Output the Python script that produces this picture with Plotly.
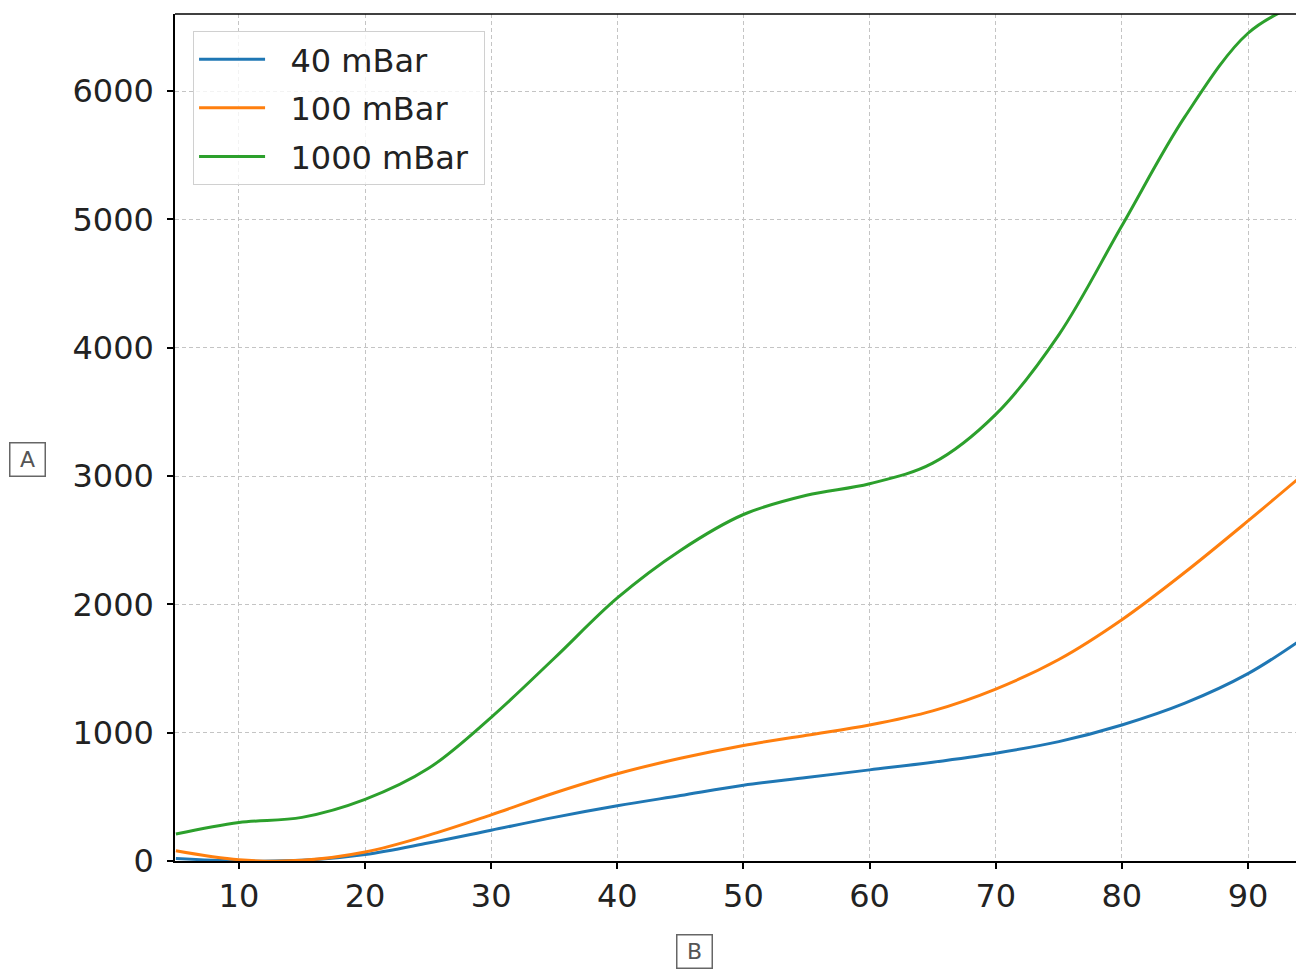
import plotly.graph_objects as go

# values
x_vals = [5, 10, 15, 20, 25, 30, 35, 40, 45, 50, 55, 60, 65, 70, 75, 80, 85, 90, 94]
p40 = [20, 0, 5, 50, 140, 240, 340, 430, 510, 590, 650, 710, 770, 840, 930, 1060, 1230, 1460, 1710]
p100 = [80, 10, 5, 70, 200, 360, 530, 680, 800, 900, 980, 1060, 1170, 1340, 1570, 1880, 2250, 2650, 2980]
p1000 = [210, 300, 340, 480, 720, 1120, 1580, 2050, 2420, 2700, 2850, 2940, 3100, 3480, 4100, 4950, 5800, 6450, 6680]

series = [("40 mBar", p40, "#1f77b4"),
          ("100 mBar", p100, "#ff7f0e"),
          ("1000 mBar", p1000, "#2ca02c")]

fig = go.Figure()
for name, vals, col in series:
    fig.add_trace(go.Scatter(x=x_vals, y=vals, name="\u00a0\u00a0" + name + "\u00a0", mode="lines",
                             line=dict(color=col, width=3, shape="spline", smoothing=1.0),
                             legendgroup=name))

axis_common = dict(showline=True, linecolor="black", linewidth=1.5,
                   ticks="outside", ticklen=6, tickwidth=1.5, tickcolor="black",
                   showgrid=True, gridcolor="#c4c4c4", gridwidth=1, griddash="4px,3px",
                   zeroline=False, tickfont=dict(family="DejaVu Sans", size=32, color="#222"))

fig.update_xaxes(range=[4.93, 94.44], tickvals=[10, 20, 30, 40, 50, 60, 70, 80, 90], **axis_common)
fig.update_yaxes(range=[0, 6600], tickvals=[0, 1000, 2000, 3000, 4000, 5000, 6000],
                 ticklabelstandoff=7, **axis_common)

# the page body adds an 8px offset, so the figure is 8px smaller than the window
fig.update_layout(
    width=1296, height=961,
    margin=dict(l=167, r=0, t=6, b=108),
    plot_bgcolor="white", paper_bgcolor="white",
    font=dict(family="DejaVu Sans"),
    legend=dict(x=0.016, y=0.98, xanchor="left", yanchor="top",
                bgcolor="rgba(255,255,255,0.8)", bordercolor="#d0d0d0", borderwidth=1,
                font=dict(size=32, color="#222"), tracegroupgap=4, itemwidth=66),
    shapes=[dict(type="line", xref="paper", yref="paper", x0=0, x1=1, y0=1, y1=1,
                 line=dict(color="black", width=1.5))],
    annotations=[
        dict(text="A", xref="paper", yref="paper", x=-0.1306, y=0.4735, showarrow=False,
             xanchor="center", yanchor="middle",
             width=30, height=28, font=dict(size=22, color="#555"),
             bordercolor="#666", borderwidth=1.5, borderpad=2),
        dict(text="B", xref="paper", yref="paper", x=0.4597, y=-0.1074, showarrow=False,
             xanchor="center", yanchor="middle",
             width=30, height=28, font=dict(size=22, color="#555"),
             bordercolor="#666", borderwidth=1.5, borderpad=2),
    ],
)

fig.write_html("out.html")
